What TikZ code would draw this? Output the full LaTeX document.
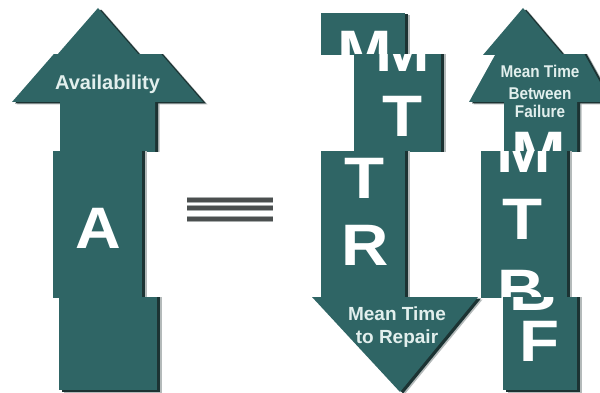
\documentclass[tikz,border=0pt]{standalone}
\usepackage{fontspec}
\setmainfont{Liberation Sans}
\definecolor{teal1}{HTML}{2F6565}
\definecolor{shad}{HTML}{1C3333}
\definecolor{shadlt}{HTML}{B4BABA}
\definecolor{txtlt}{HTML}{E2EFED}
\definecolor{eqc}{HTML}{4B4F4F}
\definecolor{eqlt}{HTML}{A8ACAC}
\newcommand\tealshape[1]{%
  \begin{scope}[shift={(4.5,2.5)}]\fill[shadlt] #1;\end{scope}%
  \begin{scope}[shift={(3,1.5)}]\fill[shad] #1;\end{scope}%
  \fill[teal1] #1;}
\tikzset{
  bigletter/.style={font=\bfseries\fontsize{58.5}{58.5}\selectfont, text=white, inner sep=0pt, anchor=base, xscale=1.12},
  lettera/.style={font=\bfseries\fontsize{58.5}{58.5}\selectfont, text=white, inner sep=0pt, anchor=base, xscale=1.08},
  mttrtext/.style={font=\bfseries\fontsize{19}{21}\selectfont, text=txtlt, inner sep=0pt, anchor=base},
  availtext/.style={font=\bfseries\fontsize{20}{22}\selectfont, text=txtlt, inner sep=0pt, anchor=base},
  mtbftext/.style={font=\bfseries\fontsize{17}{19}\selectfont, text=txtlt, inner sep=0pt, anchor=base, xscale=0.9},
  eqline/.style={draw=eqc, line width=4.5pt},
  eqhalo/.style={draw=eqlt, line width=6.5pt},
}
\begin{document}
\begin{tikzpicture}[x=1pt, y=-1pt]
\useasboundingbox (0,0) rectangle (600,393);
\fill[white] (0,0) rectangle (600,393);

% ---------- band 1 : y 0 - 55 ----------
\begin{scope}
  \clip (0,0) rectangle (600,55);
  \tealshape{(98,8) -- (180,102) -- (16,102) -- cycle}
  \tealshape{(321,13) rectangle (405,160)}
  \node[bigletter] (m1a) at (365,72) {M};
  \tealshape{(523,8) -- (603,102) -- (443,102) -- cycle}
\end{scope}

% ---------- band 2 : y 55 - 152 ----------
\begin{scope}
  \clip (0,55) rectangle (600,152);
  \tealshape{(107.5,-7.5) -- (203,102) -- (155,102) -- (155,170) -- (60,170) -- (60,102) -- (12,102) -- cycle}
  \node[availtext] (avail) at (107.5,90) {Availability};
  \tealshape{(354,0) rectangle (441,170)}
  \node[bigletter] (m1b) at (402.5,72) {M};
  \node[bigletter] (t1b) at (402.5,137) {T};
  \tealshape{(540,-26) -- (611,102) -- (577,102) -- (577,170) -- (504,170) -- (504,102) -- (469,102) -- cycle}
  \node[mtbftext] (mtbf1) at (540,78) {Mean Time};
  \node[mtbftext] (mtbf2) at (540,100) {Between};
  \node[mtbftext] (mtbf3) at (540,118) {Failure};
  \node[bigletter] (m2b) at (539,172) {M};
\end{scope}

% ---------- band 3 : y 152 - 297 ----------
\begin{scope}
  \clip (0,152) rectangle (600,297);
  \tealshape{(53,140) rectangle (142,310)}
  \node[lettera] (a) at (98.5,248) {A};
  \draw[eqhalo] (187,199.8) -- (273,199.8);
  \draw[eqhalo] (187,208) -- (273,208);
  \draw[eqhalo] (187,218.8) -- (273,218.8);
  \draw[eqline] (187,199.8) -- (273,199.8);
  \draw[eqline] (187,208) -- (273,208);
  \draw[eqline] (187,218.8) -- (273,218.8);
  \tealshape{(321,140) rectangle (405,310)}
  \node[bigletter] (t2c) at (365,199) {T};
  \node[bigletter] (r) at (365,265) {R};
  \tealshape{(481,140) rectangle (567,310)}
  \node[bigletter] (m2c) at (524,172) {M};
  \node[bigletter] (t3c) at (523,240) {T};
  \node[bigletter] (bc) at (521,310) {B};
\end{scope}

% ---------- band 4 : y 297 - 393 ----------
\begin{scope}
  \clip (0,297) rectangle (600,393);
  \tealshape{(59,280) rectangle (157,390)}
  \tealshape{(312,297) -- (478,297) -- (400,392) -- cycle}
  \node[mttrtext] (mttr1) at (397,320) {Mean Time};
  \node[mttrtext] (mttr2) at (397,343) {to Repair};
  \tealshape{(503,280) rectangle (577,390)}
  \node[bigletter] (bd) at (533,310) {B};
  \node[bigletter] (f) at (540,361) {F};
\end{scope}
\end{tikzpicture}
\end{document}
